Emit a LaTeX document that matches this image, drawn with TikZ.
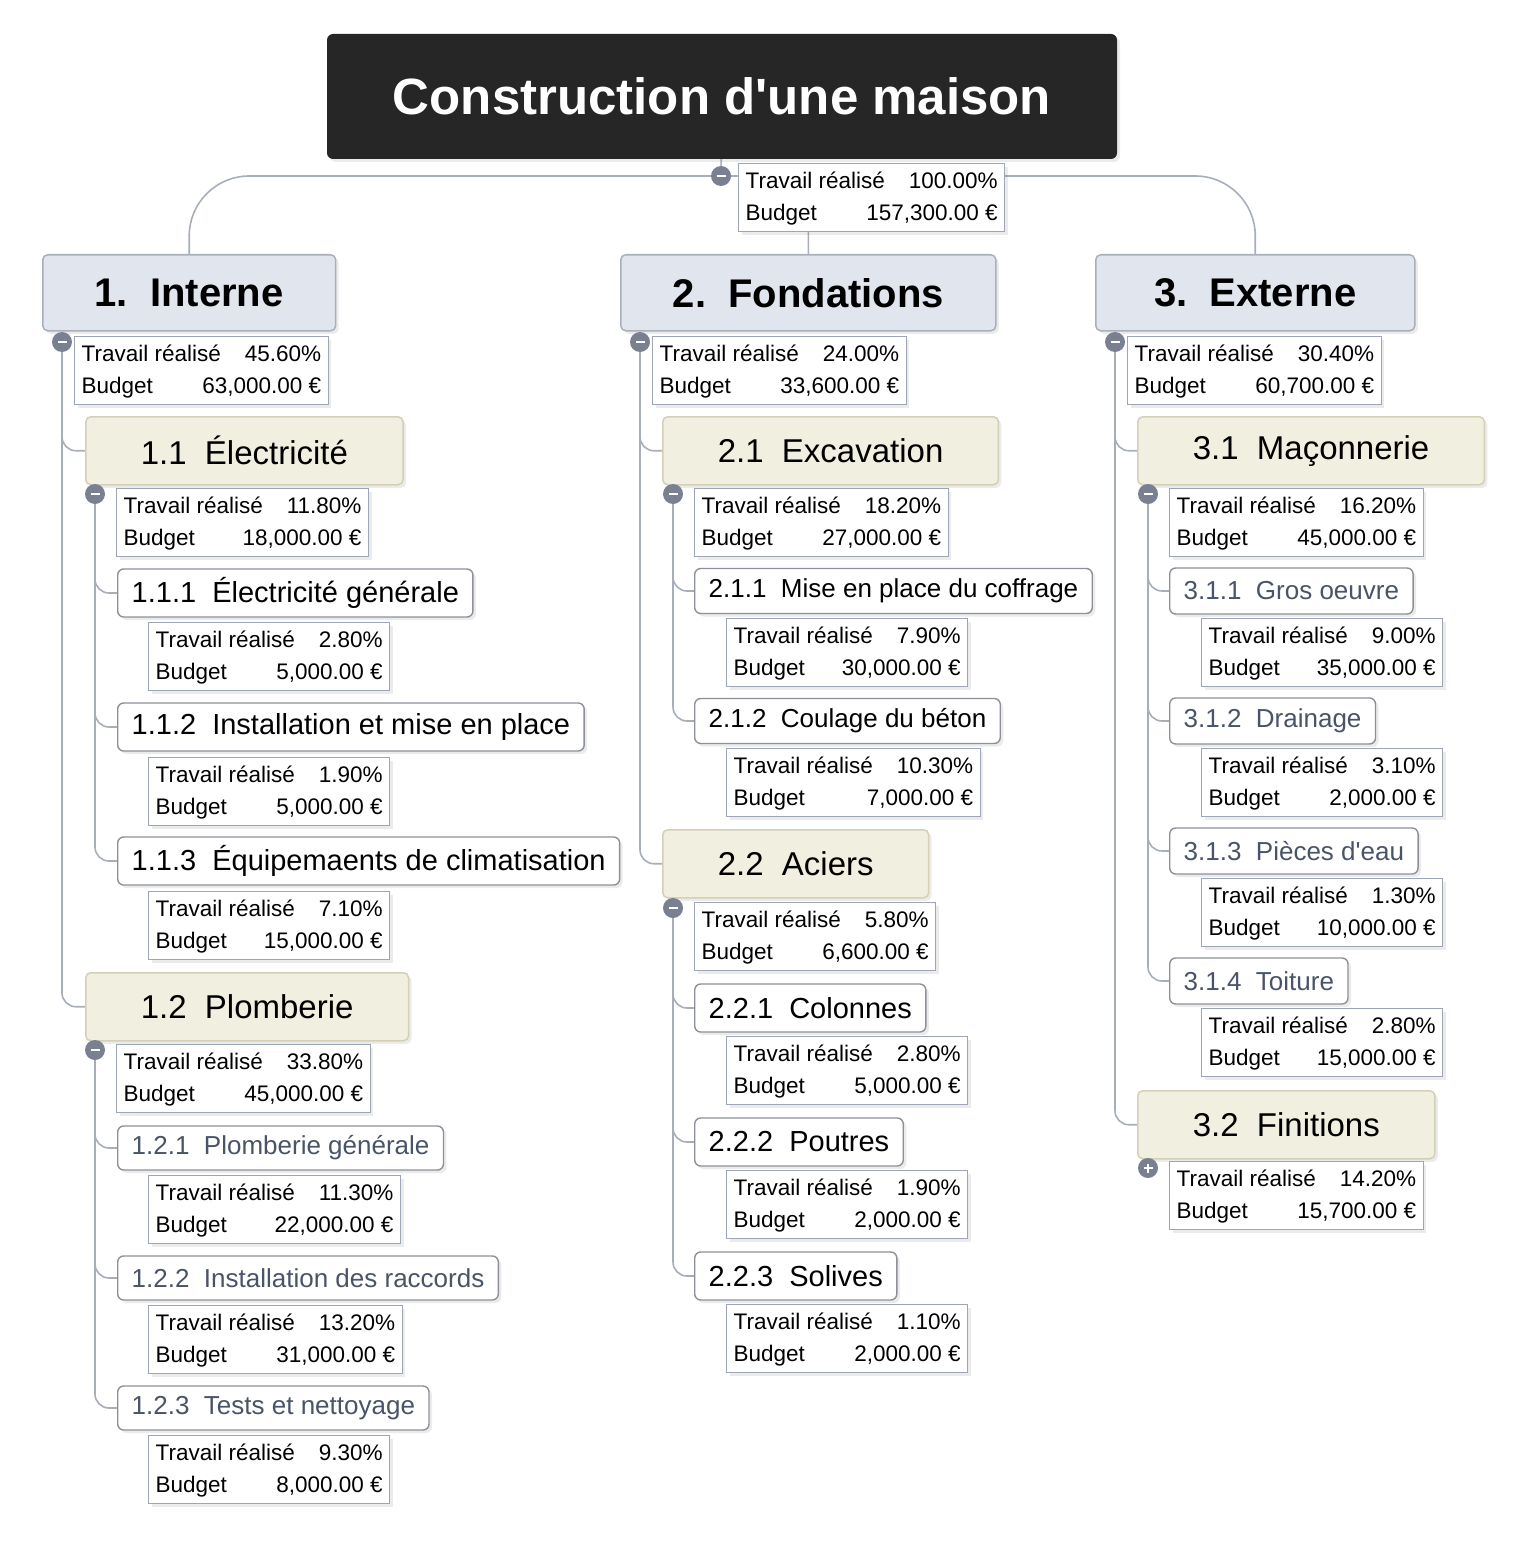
\documentclass[tikz,border=0pt]{standalone}
\usepackage{fontspec}
\setmainfont{Liberation Sans}[Ligatures=TeXOff]
\usepackage{tikz}
\usetikzlibrary{shadows,backgrounds}

\definecolor{rootfill}{HTML}{262626}
\definecolor{mainfill}{HTML}{E1E5EE}
\definecolor{mainline}{HTML}{A9B0BC}
\definecolor{subfill}{HTML}{F1EFE0}
\definecolor{subline}{HTML}{D4D0B8}
\definecolor{taskline}{HTML}{8C9199}
\definecolor{sumline}{HTML}{9DA6B4}
\definecolor{linkgray}{HTML}{A8AEB8}
\definecolor{btngray}{HTML}{7A8091}
\definecolor{taskgray}{HTML}{4A5468}

\newcommand{\tabsumm}[2]{\begin{tabular}{@{}l@{}}Travail réalisé\hspace{24pt}\hfill #1\\Budget\hspace{24pt}\hfill #2\end{tabular}}

\begin{document}
\begin{tikzpicture}[x=1pt, y=-1pt,
    shade/.style={drop shadow={opacity=.16, shadow xshift=3pt, shadow yshift=-3pt}},
    rootbox/.style={rectangle, rounded corners=6pt, fill=rootfill, text=white, minimum width=790pt, minimum height=125pt, font=\fontsize{51}{60}\selectfont\bfseries, shade},
    main/.style={draw=mainline, line width=1.5pt, fill=mainfill, rounded corners=5pt, anchor=north west, inner xsep=52pt, minimum height=76pt, font=\fontsize{40}{46}\selectfont\bfseries, shade},
    sub/.style={draw=subline, line width=1.5pt, fill=subfill, rounded corners=5pt, anchor=north west, inner xsep=55pt, minimum height=68pt, font=\fontsize{33}{38}\selectfont, shade},
    task/.style={draw=taskline, line width=1.4pt, fill=white, rounded corners=6pt, anchor=west, inner xsep=14pt, minimum height=48pt, font=\fontsize{29}{33}\selectfont, shade},
    tasks/.style={task, minimum height=45pt, font=\fontsize{26}{30}\selectfont},
    summ/.style={draw=sumline, line width=1.3pt, fill=white, anchor=north west, inner xsep=7pt, inner ysep=2pt, font=\fontsize{22.5}{32}\selectfont, shade},
    link/.style={draw=linkgray, line width=1.6pt, rounded corners=14pt},
    btn/.style={circle, fill=btngray, minimum size=20pt, inner sep=0pt, path picture={\draw[white, line width=2.6pt] ([xshift=-4.5pt]path picture bounding box.center) -- ([xshift=4.5pt]path picture bounding box.center);}},
    plusbtn/.style={circle, fill=btngray, minimum size=20pt, inner sep=0pt, path picture={\draw[white, line width=2.2pt] ([xshift=-4.5pt]path picture bounding box.center) -- ([xshift=4.5pt]path picture bounding box.center) ([yshift=-4.5pt]path picture bounding box.center) -- ([yshift=4.5pt]path picture bounding box.center);}}
]
    \useasboundingbox (0,0) rectangle (1533,1562);

    % Root
    \node[rootbox] (root) at (722,96.5) {Construction d'une maison};
    \node[summ] (sroot) at (738,163) {\tabsumm{100.00\%}{157,300.00 €}};
    \node[btn] (croot) at (721,176) {};

    % 1. Interne
    \node[main] (int) at (42,254) {1.\ \ Interne};
    \node[summ] (sint) at (74,336) {\tabsumm{45.60\%}{63,000.00 €}};
    \node[btn] (cint) at (62,342) {};

    \node[sub] (ele) at (85,416) {1.1\ \ Électricité};
    \node[summ] (sele) at (116,488) {\tabsumm{11.80\%}{18,000.00 €}};
    \node[btn] (cele) at (95,494) {};
    \node[task] (t111) at (117,593) {1.1.1\ \ Électricité générale};
    \node[summ] (s111) at (148,622) {\tabsumm{2.80\%}{5,000.00 €}};
    \node[task] (t112) at (117,727) {1.1.2\ \ Installation et mise en place};
    \node[summ] (s112) at (148,757) {\tabsumm{1.90\%}{5,000.00 €}};
    \node[task] (t113) at (117,861) {1.1.3\ \ Équipemaents de climatisation};
    \node[summ] (s113) at (148,891) {\tabsumm{7.10\%}{15,000.00 €}};

    \node[sub] (plo) at (85,972) {1.2\ \ Plomberie};
    \node[summ] (splo) at (116,1044) {\tabsumm{33.80\%}{45,000.00 €}};
    \node[btn] (cplo) at (95,1050) {};
    \node[tasks, minimum height=44pt, text=taskgray] (t121) at (117,1148) {1.2.1\ \ Plomberie générale};
    \node[summ] (s121) at (148,1175) {\tabsumm{11.30\%}{22,000.00 €}};
    \node[tasks, minimum height=44pt, text=taskgray] (t122) at (117,1278) {1.2.2\ \ Installation des raccords};
    \node[summ] (s122) at (148,1305) {\tabsumm{13.20\%}{31,000.00 €}};
    \node[tasks, minimum height=44pt, text=taskgray] (t123) at (117,1408) {1.2.3\ \ Tests et nettoyage};
    \node[summ] (s123) at (148,1435) {\tabsumm{9.30\%}{8,000.00 €}};

    % 2. Fondations
    \node[main] (fon) at (620,254) {2.\ \ Fondations};
    \node[summ] (sfon) at (652,336) {\tabsumm{24.00\%}{33,600.00 €}};
    \node[btn] (cfon) at (640,342) {};

    \node[sub] (exc) at (662,416) {2.1\ \ Excavation};
    \node[summ] (sexc) at (694,488) {\tabsumm{18.20\%}{27,000.00 €}};
    \node[btn] (cexc) at (673,494) {};
    \node[tasks] (t211) at (694,591) {2.1.1\ \ Mise en place du coffrage};
    \node[summ] (s211) at (726,618) {\tabsumm{7.90\%}{30,000.00 €}};
    \node[tasks] (t212) at (694,721) {2.1.2\ \ Coulage du béton};
    \node[summ] (s212) at (726,748) {\tabsumm{10.30\%}{7,000.00 €}};

    \node[sub] (aci) at (662,829) {2.2\ \ Aciers};
    \node[summ] (saci) at (694,902) {\tabsumm{5.80\%}{6,600.00 €}};
    \node[btn] (caci) at (673,908) {};
    \node[task] (t221) at (694,1008) {2.2.1\ \ Colonnes};
    \node[summ] (s221) at (726,1036) {\tabsumm{2.80\%}{5,000.00 €}};
    \node[task] (t222) at (694,1142) {2.2.2\ \ Poutres};
    \node[summ] (s222) at (726,1170) {\tabsumm{1.90\%}{2,000.00 €}};
    \node[task] (t223) at (694,1276) {2.2.3\ \ Solives};
    \node[summ] (s223) at (726,1304) {\tabsumm{1.10\%}{2,000.00 €}};

    % 3. Externe
    \node[main, minimum width=319pt] (ext) at (1095,254) {3.\ \ Externe};
    \node[summ] (sext) at (1127,336) {\tabsumm{30.40\%}{60,700.00 €}};
    \node[btn] (cext) at (1115,342) {};

    \node[sub] (mac) at (1137,416) {3.1\ \ Maçonnerie};
    \node[summ] (smac) at (1169,488) {\tabsumm{16.20\%}{45,000.00 €}};
    \node[btn] (cmac) at (1148,494) {};
    \node[tasks, minimum height=46pt, text=taskgray] (t311) at (1169,591) {3.1.1\ \ Gros oeuvre};
    \node[summ] (s311) at (1201,618) {\tabsumm{9.00\%}{35,000.00 €}};
    \node[tasks, minimum height=46pt, text=taskgray] (t312) at (1169,721) {3.1.2\ \ Drainage};
    \node[summ] (s312) at (1201,748) {\tabsumm{3.10\%}{2,000.00 €}};
    \node[tasks, minimum height=46pt, text=taskgray] (t313) at (1169,851) {3.1.3\ \ Pièces d'eau};
    \node[summ] (s313) at (1201,878) {\tabsumm{1.30\%}{10,000.00 €}};
    \node[tasks, minimum height=46pt, text=taskgray] (t314) at (1169,981) {3.1.4\ \ Toiture};
    \node[summ] (s314) at (1201,1008) {\tabsumm{2.80\%}{15,000.00 €}};

    \node[sub] (fin) at (1137,1090) {3.2\ \ Finitions};
    \node[summ] (sfin) at (1169,1161) {\tabsumm{14.20\%}{15,700.00 €}};
    \node[plusbtn] (cfin) at (1148,1168) {};

    % Links
    \begin{scope}[on background layer]
        \draw[link] (root) -- (croot);
        \draw[link, rounded corners=60pt] (croot) -| (int.north);
        \draw[link, rounded corners=60pt] (croot) -| (ext.north);
        \draw[link] (croot) -| (fon.north);
        \draw[link] (cint) |- (ele.west);
        \draw[link] (cint) |- (plo.west);
        \draw[link] (cfon) |- (exc.west);
        \draw[link] (cfon) |- (aci.west);
        \draw[link] (cext) |- (mac.west);
        \draw[link] (cext) |- (fin.west);
        \draw[link] (cele) |- (t111.west);
        \draw[link] (cele) |- (t112.west);
        \draw[link] (cele) |- (t113.west);
        \draw[link] (cplo) |- (t121.west);
        \draw[link] (cplo) |- (t122.west);
        \draw[link] (cplo) |- (t123.west);
        \draw[link] (cexc) |- (t211.west);
        \draw[link] (cexc) |- (t212.west);
        \draw[link] (caci) |- (t221.west);
        \draw[link] (caci) |- (t222.west);
        \draw[link] (caci) |- (t223.west);
        \draw[link] (cmac) |- (t311.west);
        \draw[link] (cmac) |- (t312.west);
        \draw[link] (cmac) |- (t313.west);
        \draw[link] (cmac) |- (t314.west);
    \end{scope}
\end{tikzpicture}
\end{document}
